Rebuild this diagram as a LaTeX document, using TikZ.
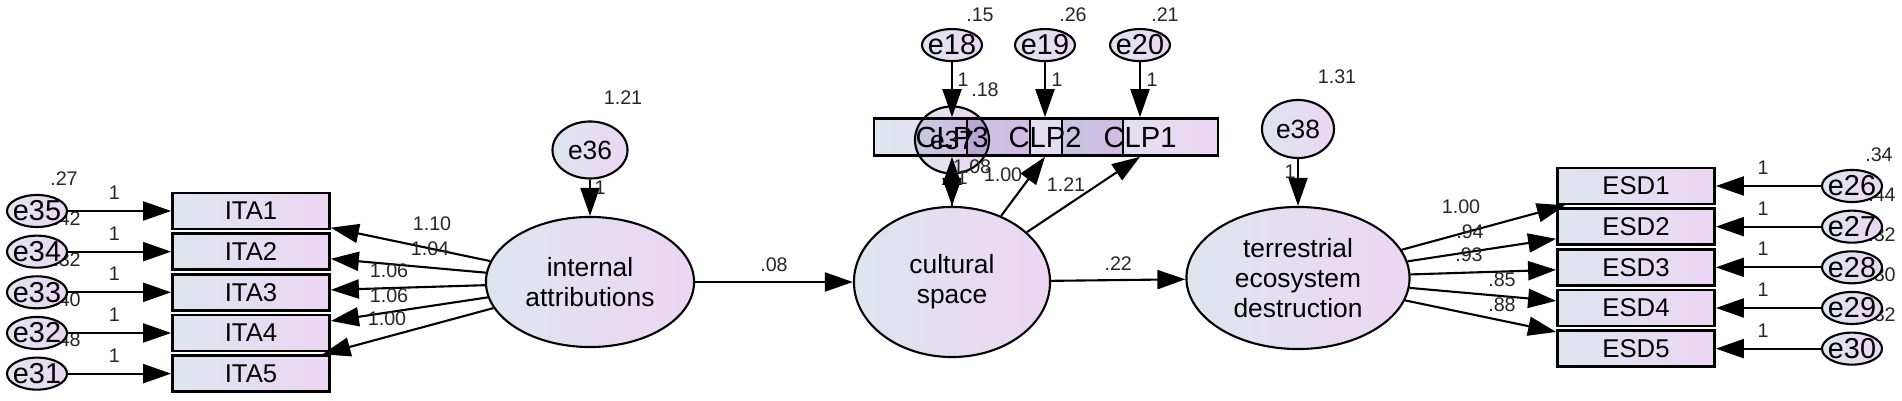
\documentclass[tikz,border=0pt]{standalone}
\usepackage{fontspec}
\setmainfont{Liberation Sans}
\usetikzlibrary{arrows.meta, positioning, shapes.geometric}
\definecolor{amosblue}{RGB}{222,229,238}
\definecolor{amoslilac}{RGB}{236,214,244}

\begin{document}
\begin{tikzpicture}[x=0.01cm, y=-0.01cm,
					obs/.style={draw, line width=0.75pt, rectangle, left color=amosblue, right color=amoslilac, minimum width=1.57cm, minimum height=0.36cm, inner sep=0pt, font=\fontsize{7.3}{8}\selectfont},
					clpbox/.style={minimum width=1.56cm, minimum height=0.37cm, blend mode=multiply, font=\fontsize{8.3}{9}\selectfont},
					latent/.style={draw, line width=0.6pt, ellipse, left color=amosblue, right color=amoslilac, inner sep=0pt, align=center, font=\fontsize{7.5}{8.6}\selectfont},
					err/.style={draw, line width=0.6pt, ellipse, left color=amosblue, right color=amoslilac, minimum width=0.6cm, minimum height=0.32cm, inner xsep=-4pt, inner ysep=0pt, font=\fontsize{8.2}{9}\selectfont},
					res/.style={draw, line width=0.6pt, ellipse, left color=amosblue, right color=amoslilac, inner sep=0pt, font=\fontsize{7.5}{8}\selectfont},
					arrow/.style={-{Triangle[length=0.28cm, width=0.19cm]}, line width=0.6pt},
					coef/.style={inner sep=0pt, text=black!85, font=\fontsize{5.6}{6}\selectfont}
					]
					\useasboundingbox (0,0) rectangle (1902,401);

					% latent variables
					\node[latent, minimum width=2.08cm, minimum height=1.30cm] (intattr) at (590,282) {internal\\attributions};
					\node[latent, minimum width=1.96cm, minimum height=1.50cm] (cultsp) at (952,282) {cultural\\space};
					\node[latent, minimum width=2.23cm, minimum height=1.42cm] (terreco) at (1298,278) {terrestrial\\ecosystem\\destruction};

					% indicators
					\node[obs] (ita1) at (251,211) {ITA1};
					\node[obs, below=0.02cm of ita1] (ita2) {ITA2};
					\node[obs, below=0.02cm of ita2] (ita3) {ITA3};
					\node[obs, below=0.02cm of ita3] (ita4) {ITA4};
					\node[obs, below=0.02cm of ita4] (ita5) {ITA5};
					\node[obs] (esd1) at (1636,186) {ESD1};
					\node[obs, below=0.02cm of esd1] (esd2) {ESD2};
					\node[obs, below=0.02cm of esd2] (esd3) {ESD3};
					\node[obs, below=0.02cm of esd3] (esd4) {ESD4};
					\node[obs, below=0.02cm of esd4] (esd5) {ESD5};
					\node[obs, clpbox] (clp3) at (952,137) {CLP3};
					\node[obs, clpbox] (clp2) at (1045,137) {CLP2};
					\node[obs, clpbox] (clp1) at (1140,137) {CLP1};

					% variances
					\node[coef] (v35) at (64,179) {.27};
					\node[coef] (v34) at (67,219) {.42};
					\node[coef] (v33) at (67,260) {.32};
					\node[coef] (v32) at (67,300) {.40};
					\node[coef] (v31) at (67,340) {.48};
					\node[coef] (v26) at (1879,155) {.34};
					\node[coef] (v27) at (1882,195) {.44};
					\node[coef] (v28) at (1882,235) {.32};
					\node[coef] (v29) at (1882,275) {.30};
					\node[coef] (v30) at (1882,315) {.32};
					\node[coef] (v18) at (980,15) {.15};
					\node[coef] (v19) at (1073,15) {.26};
					\node[coef] (v20) at (1165,15) {.21};
					\node[coef] (v36) at (623,98) {1.21};
					\node[coef] (v37) at (985,90) {.18};
					\node[coef] (v38) at (1337,77) {1.31};

					% error terms
					\node[err, left=1.03cm of ita1] (e35) {e35};
					\node[err, left=1.03cm of ita2] (e34) {e34};
					\node[err, left=1.03cm of ita3] (e33) {e33};
					\node[err, left=1.03cm of ita4] (e32) {e32};
					\node[err, left=1.03cm of ita5] (e31) {e31};
					\node[err, right=1.05cm of esd1] (e26) {e26};
					\node[err, right=1.05cm of esd2] (e27) {e27};
					\node[err, right=1.05cm of esd3] (e28) {e28};
					\node[err, right=1.05cm of esd4] (e29) {e29};
					\node[err, right=1.05cm of esd5] (e30) {e30};
					\node[err, above=0.55cm of clp3] (e18) {e18};
					\node[err, above=0.55cm of clp2] (e19) {e19};
					\node[err, above=0.55cm of clp1] (e20) {e20};
					\node[res, minimum width=0.75cm, minimum height=0.57cm] (e36) at (590,150) {e36};
					\node[res, minimum width=0.74cm, minimum height=0.67cm, blend mode=multiply] (e37) at (952,140) {e37};
					\node[res, minimum width=0.72cm, minimum height=0.58cm] (e38) at (1298,129) {e38};

					% Connections
					\draw[arrow] (e35) -- (ita1) node[coef, pos=0.45, above=3pt] (f35) {1};
					\draw[arrow] (e34) -- (ita2) node[coef, pos=0.45, above=3pt] (f34) {1};
					\draw[arrow] (e33) -- (ita3) node[coef, pos=0.45, above=3pt] (f33) {1};
					\draw[arrow] (e32) -- (ita4) node[coef, pos=0.45, above=3pt] (f32) {1};
					\draw[arrow] (e31) -- (ita5) node[coef, pos=0.45, above=3pt] (f31) {1};
					\draw[arrow] (intattr) -- (ita1);
					\draw[arrow] (intattr) -- (ita2);
					\draw[arrow] (intattr) -- (ita3);
					\draw[arrow] (intattr) -- (ita4);
					\draw[arrow] (intattr) -- (ita5);
					\draw[arrow] (e36) -- (intattr);
					\draw[arrow] (intattr) -- (cultsp) node[coef, midway, above=2.5pt] (b1) {.08};
					\draw[arrow] (e37) -- (cultsp);
					\draw[arrow] (cultsp) -- (clp3);
					\draw[arrow] (cultsp) -- (clp2.south);
					\draw[arrow] (cultsp) -- (clp1.south);
					\draw[arrow] (e18) -- (clp3);
					\draw[arrow] (e19) -- (clp2);
					\draw[arrow] (e20) -- (clp1.north);
					\draw[arrow] (cultsp) -- (terreco) node[coef, midway, above=2.5pt] (b2) {.22};
					\draw[arrow] (e38) -- (terreco);
					\draw[arrow] (terreco) -- (esd1);
					\draw[arrow] (terreco) -- (esd2);
					\draw[arrow] (terreco) -- (esd3);
					\draw[arrow] (terreco) -- (esd4);
					\draw[arrow] (terreco) -- (esd5);
					\draw[arrow] (e26) -- (esd1) node[coef, pos=0.55, above=3pt] (f26) {1};
					\draw[arrow] (e27) -- (esd2) node[coef, pos=0.55, above=3pt] (f27) {1};
					\draw[arrow] (e28) -- (esd3) node[coef, pos=0.55, above=3pt] (f28) {1};
					\draw[arrow] (e29) -- (esd4) node[coef, pos=0.55, above=3pt] (f29) {1};
					\draw[arrow] (e30) -- (esd5) node[coef, pos=0.55, above=3pt] (f30) {1};

					% path coefficients
					\node[coef] (w1) at (432,224) {1.10};
					\node[coef] (w2) at (430,249) {1.04};
					\node[coef] (w3) at (389,271) {1.06};
					\node[coef] (w4) at (389,296) {1.06};
					\node[coef] (w5) at (387,319) {1.00};
					\node[coef] (f36) at (600,188) {1};
					\node[coef] (f37) at (962,178) {1};
					\node[coef] (w6) at (972,167) {1.08};
					\node[coef] (w7) at (1003,175) {1.00};
					\node[coef] (w8) at (1066,185) {1.21};
					\node[coef] (f18) at (963,80) {1};
					\node[coef] (f19) at (1057,80) {1};
					\node[coef] (f20) at (1152,80) {1};
					\node[coef] (f38) at (1290,172) {1};
					\node[coef] (w9) at (1461,207) {1.00};
					\node[coef] (w10) at (1470,232) {.94};
					\node[coef] (w11) at (1469,255) {.93};
					\node[coef] (w12) at (1502,280) {.85};
					\node[coef] (w13) at (1502,305) {.88};

				\end{tikzpicture}
\end{document}
